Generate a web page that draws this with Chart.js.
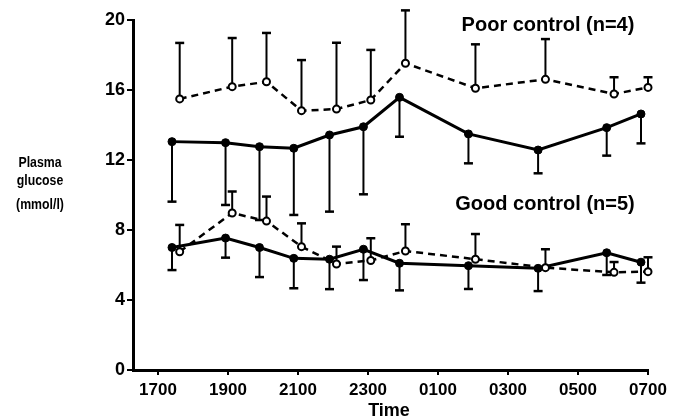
<!DOCTYPE html>
<html>
<head>
<meta charset="utf-8">
<title>Plasma glucose</title>
<script src="https://cdn.jsdelivr.net/npm/chart.js@4.4.1/dist/chart.umd.min.js"></script>
<style>
    html, body { margin: 0; padding: 0; background: #fff; }
</style>
</head>
<body>
<canvas id="glucoseChart" width="681" height="420"></canvas>
<script>
    // time in hours from 1700 of the first day (25 = 0100, 31 = 0700)
    const solidTimes = [17.4, 18.93, 19.9, 20.88, 21.9, 22.87, 23.9, 25.87, 27.86, 29.82, 30.8];
    const openTimes  = [17.62, 19.12, 20.1, 21.1, 22.1, 23.08, 24.07, 26.07, 28.07, 30.03, 31.0];

    // poor control (n=4)
    const poorSolidMean  = [13.05, 12.99, 12.76, 12.67, 13.43, 13.9, 15.58, 13.49, 12.57, 13.85, 14.63];
    const poorSolidLower = [9.62, 9.43, 8.57, 8.86, 9.05, 10.04, 13.33, 11.81, 11.24, 12.25, 12.95];
    const poorOpenMean   = [15.49, 16.19, 16.47, 14.82, 14.91, 15.43, 17.53, 16.1, 16.61, 15.77, 16.15];
    const poorOpenUpper  = [18.69, 18.97, 19.26, 17.71, 18.7, 18.29, 20.55, 18.61, 18.91, 16.73, 16.73];

    // good control (n=5)
    const goodSolidMean  = [7.0, 7.54, 7.0, 6.38, 6.33, 6.9, 6.1, 5.96, 5.81, 6.7, 6.16];
    const goodSolidLower = [5.71, 6.42, 5.31, 4.67, 4.62, 5.14, 4.55, 4.63, 4.51, 5.43, 4.99];
    const goodOpenMean   = [6.76, 8.97, 8.51, 7.05, 6.06, 6.26, 6.8, 6.33, 5.85, 5.58, 5.62];
    const goodOpenUpper  = [8.29, 10.2, 9.91, 8.38, 7.05, 7.53, 8.33, 7.77, 6.9, 6.17, 6.44];

    const xTickValues = [17, 19, 21, 23, 25, 27, 29, 31];
    const xTickLabels = ['1700', '1900', '2100', '2300', '0100', '0300', '0500', '0700'];
    const yTickValues = [0, 4, 8, 12, 16, 20];

    function points(times, values) {
        return values.map((v, i) => ({ x: times[i], y: v }));
    }

    function solidSet(values, ends) {
        return {
            data: points(solidTimes, values),
            errorEnd: ends,
            borderColor: '#000',
            borderWidth: 3,
            pointRadius: 4,
            pointBackgroundColor: '#000',
            pointBorderColor: '#000',
            pointBorderWidth: 1,
            tension: 0,
            clip: false
        };
    }

    function openSet(values, ends) {
        return {
            data: points(openTimes, values),
            errorEnd: ends,
            borderColor: '#000',
            borderWidth: 2.5,
            borderDash: [7, 5],
            pointRadius: 3.5,
            pointBackgroundColor: '#fff',
            pointBorderColor: '#000',
            pointBorderWidth: 2,
            tension: 0,
            clip: false
        };
    }

    // SEM bars with a short cap at the end
    const errorBars = {
        id: 'errorBars',
        beforeDatasetsDraw(chart) {
            const ctx = chart.ctx;
            const xs = chart.scales.x, ys = chart.scales.y;
            ctx.save();
            ctx.strokeStyle = '#000';
            ctx.setLineDash([]);
            chart.data.datasets.forEach(ds => {
                ds.errorEnd.forEach((end, i) => {
                    const px = xs.getPixelForValue(ds.data[i].x);
                    const py0 = ys.getPixelForValue(ds.data[i].y);
                    const py1 = ys.getPixelForValue(end);
                    ctx.lineWidth = 2;
                    ctx.beginPath();
                    ctx.moveTo(px, py0);
                    ctx.lineTo(px, py1);
                    ctx.stroke();
                    ctx.lineWidth = 2.5;
                    ctx.beginPath();
                    ctx.moveTo(px - 4.5, py1);
                    ctx.lineTo(px + 4.5, py1);
                    ctx.stroke();
                });
            });
            ctx.restore();
        }
    };

    // group labels and the axis titles
    const labels = {
        id: 'labels',
        afterDraw(chart) {
            const ctx = chart.ctx;
            ctx.save();
            ctx.fillStyle = '#000';
            ctx.textAlign = 'center';
            ctx.textBaseline = 'middle';
            ctx.font = 'bold 20px "Liberation Sans", Arial, sans-serif';
            ctx.fillText('Poor control (n=4)', 548, 25);
            ctx.fillText('Good control (n=5)', 545, 204);

            ctx.font = 'bold 18px "Liberation Sans", Arial, sans-serif';
            ctx.fillText('Time', 389, 411);

            ctx.font = 'bold 15px "Liberation Sans", Arial, sans-serif';
            ['Plasma', 'glucose', '(mmol/l)'].forEach((t, i) => {
                ctx.save();
                ctx.translate(40, [163, 181, 205][i]);
                ctx.scale(0.82, 1);
                ctx.fillText(t, 0, 0);
                ctx.restore();
            });
            ctx.restore();
        }
    };

    const chart = new Chart(document.getElementById('glucoseChart'), {
        type: 'line',
        data: {
            datasets: [
                openSet(poorOpenMean, poorOpenUpper),
                solidSet(poorSolidMean, poorSolidLower),
                openSet(goodOpenMean, goodOpenUpper),
                solidSet(goodSolidMean, goodSolidLower)
            ]
        },
        options: {
            responsive: false,
            devicePixelRatio: 1,
            animation: false,
            layout: { padding: { left: 0, top: 20, right: 33, bottom: 0 } },
            plugins: {
                legend: { display: false },
                tooltip: { enabled: false }
            },
            scales: {
                x: {
                    type: 'linear',
                    min: 16.286,
                    max: 31,
                    afterBuildTicks: scale => {
                        scale.ticks = xTickValues.map(v => ({ value: v }));
                    },
                    afterFit: scale => { scale.height = 50; },
                    ticks: {
                        color: '#000',
                        padding: 5,
                        maxRotation: 0,
                        autoSkip: false,
                        font: { family: '"Liberation Sans", Arial, sans-serif', size: 17, weight: 'bold' },
                        callback: v => xTickLabels[xTickValues.indexOf(v)]
                    },
                    grid: { drawOnChartArea: false, drawTicks: true, tickLength: 5, color: '#000', lineWidth: 2 },
                    border: { display: true, color: '#000', width: 3 }
                },
                y: {
                    min: 0,
                    max: 20,
                    afterBuildTicks: scale => {
                        scale.ticks = yTickValues.map(v => ({ value: v }));
                    },
                    afterFit: scale => { scale.width = 133; },
                    ticks: {
                        color: '#000',
                        padding: 2,
                        font: { family: '"Liberation Sans", Arial, sans-serif', size: 18, weight: 'bold' }
                    },
                    grid: { drawOnChartArea: false, drawTicks: true, tickLength: 6, color: '#000', lineWidth: 2 },
                    border: { display: true, color: '#000', width: 3 }
                }
            }
        },
        plugins: [errorBars, labels]
    });
</script>
</body>
</html>
